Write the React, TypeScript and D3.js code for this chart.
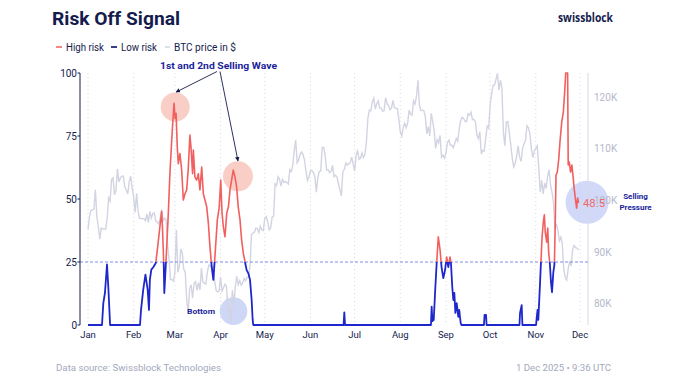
import React from 'react';
import * as d3 from 'd3';

// BTC daily close in $K, from 2025-01-01 to 2025-11-30
const btcStart = '2025-01-01';
const btcPrice = [
  // Jan
  94.4, 96.9, 98.1, 98.2, 98.3, 102.1, 96.9, 95.0, 92.5, 94.7, 94.5, 94.5, 94.5, 96.5, 100.5, 99.9, 104.1, 104.4, 101.1, 102.0, 106.1, 103.6, 104.4, 104.7, 104.7, 102.6, 102.0, 101.3, 103.7, 104.7, 102.4,
  // Feb
  100.6, 97.7, 101.4, 97.9, 96.6, 96.5, 96.5, 96.5, 96.1, 97.4, 95.7, 97.9, 96.6, 97.5, 97.6, 96.1, 95.8, 95.5, 96.6, 98.3, 96.1, 96.6, 96.3, 91.5, 88.7, 84.7, 84.7, 84.4,
  // Mar
  86.0, 94.3, 86.1, 87.2, 90.6, 89.9, 86.7, 86.2, 80.7, 78.5, 82.9, 83.7, 81.1, 84.0, 84.3, 82.6, 84.1, 82.7, 86.9, 84.2, 84.0, 83.8, 86.1, 87.5, 87.4, 86.9, 87.2, 84.4, 82.6, 82.3, 82.5,
  // Apr
  85.2, 82.5, 83.1, 83.8, 83.5, 78.2, 79.2, 76.3, 82.6, 79.6, 83.4, 85.3, 83.7, 84.5, 83.6, 84.0, 84.9, 84.5, 85.1, 85.2, 87.5, 93.4, 93.7, 93.9, 94.7, 94.6, 93.8, 95.0, 94.3, 94.2,
  // May
  96.5, 96.9, 95.9, 94.3, 94.7, 96.8, 97.0, 103.2, 102.9, 104.6, 104.1, 102.8, 104.1, 103.5, 103.7, 103.5, 103.2, 106.0, 105.6, 106.8, 109.7, 111.7, 107.3, 107.8, 109.0, 109.4, 108.9, 107.8, 105.6, 103.9, 104.6,
  // Jun
  105.7, 105.8, 105.4, 104.7, 101.6, 104.4, 105.6, 105.7, 110.3, 110.3, 108.7, 105.9, 106.0, 105.4, 105.6, 106.8, 104.6, 104.9, 104.6, 103.3, 102.1, 100.9, 105.6, 106.0, 107.3, 106.9, 107.1, 107.3, 108.4, 107.1,
  // Jul
  105.7, 108.8, 109.6, 108.0, 108.2, 109.2, 108.3, 108.9, 111.3, 115.9, 117.5, 117.4, 119.1, 119.8, 117.7, 118.7, 119.3, 117.9, 117.9, 117.3, 117.4, 119.9, 118.8, 118.4, 117.6, 117.9, 119.4, 118.0, 117.9, 117.8, 115.8,
  // Aug
  113.3, 112.5, 114.2, 115.0, 114.1, 115.0, 117.5, 116.7, 116.5, 119.3, 118.7, 120.2, 123.3, 118.4, 117.4, 117.5, 117.4, 116.2, 112.9, 114.3, 112.5, 116.9, 115.4, 113.5, 110.1, 111.8, 111.2, 112.6, 108.4, 108.8, 108.2,
  // Sep
  109.2, 111.2, 111.7, 110.7, 110.7, 110.2, 111.1, 112.0, 111.5, 113.9, 115.5, 116.1, 115.9, 115.3, 115.3, 116.8, 116.5, 117.1, 115.7, 115.7, 115.3, 112.7, 112.0, 113.3, 109.0, 109.7, 109.6, 112.1, 114.4, 114.0,
  // Oct
  118.6, 120.6, 122.3, 122.4, 123.5, 124.6, 121.4, 123.3, 121.7, 113.2, 110.6, 115.2, 115.3, 113.1, 110.8, 108.2, 106.5, 107.2, 108.6, 110.6, 108.5, 107.6, 110.1, 111.0, 111.6, 114.5, 114.1, 112.9, 110.0, 108.3, 109.6,
  // Nov
  110.1, 110.6, 106.5, 101.6, 103.9, 101.3, 103.4, 102.3, 104.7, 106.0, 103.0, 101.6, 99.7, 94.4, 95.5, 94.2, 92.2, 92.9, 91.5, 86.6, 85.1, 84.6, 86.8, 88.3, 87.3, 90.5, 91.3, 90.9, 90.8, 90.4,
];

// Risk Off Signal: day offset from 2025-01-01 and value (0-100)
const riskDay = [
  0, 9.5, 10.4, 11.5, 12.9, 13.8, 15, 35.3, 36, 37.5, 39, 40.5, 41.4, 42, 43, 44.4, 46, 47.3, 49, 50, 50.7, 51.4, 51.8, 53, 54.5, 55.6, 56.8, 57.5, 58.4,
  59.1, 59.8, 60.6, 61.3, 62.4, 63.6, 64.7, 65.8, 67, 68, 69.2, 69.9, 71, 71.5, 72.6, 73.8, 74.9, 76, 77.2, 78.3, 79.4, 80.6, 81.7, 82.8, 84, 85.1, 85.7,
  86.9, 87.8, 89.1, 90.1, 91, 91.9, 93, 94.2, 95.3, 96.4, 97.5, 98.6, 99.8, 100.9, 102, 103.2, 104.3, 105.4, 106.6, 107.7, 108.8, 110, 111.1, 111.8, 112.2,
  173.5, 174, 174.5,
  232.8, 233.3, 233.8, 234.7, 235.8, 236.7, 237.8, 239, 240, 241.2, 242.4, 243.5, 244.6, 245.8, 246.4, 247.3, 248, 248.7, 249.4, 250.3, 251.4, 252, 253, 253.5,
  268.8, 269.2, 270.2, 270.6,
  292.9, 293.3, 294.4, 294.9,
  304.2, 304.6, 305.2, 305.7, 306.9, 307.5, 308.2, 309.1, 309.8, 310.4, 311.4, 312.1, 312.7, 313.6, 314.3, 315, 315.9, 316.6, 317.3, 317.7, 318.6, 319.6,
  320.4, 321.6, 322.7, 323.6, 324.3, 325.6, 326, 326.7, 327.6, 328.5, 329.4, 330, 330.8, 331.7, 332.4, 333,
];
const riskValue = [
  0, 0, 8.7, 12.7, 24, 15, 0, 0, 6, 14, 20, 14, 6, 18, 22, 23, 24.6, 31, 40, 45, 36.5, 24.6, 12.7, 25.8, 44, 60, 73, 80, 88,
  82, 84, 70.6, 64, 68, 61.5, 49.6, 52, 53.6, 61.5, 75.4, 70.6, 60, 69.4, 58.7, 57.5, 60, 53.6, 62.7, 52, 49.6, 46.8, 40.5, 31, 23, 17.9, 23,
  33.7, 41.7, 46.8, 57.5, 44.4, 38.9, 35, 44.4, 46.8, 53.6, 57.5, 61.5, 58.7, 54.8, 46.8, 41.7, 33.7, 28.6, 25, 21.8, 20.6, 17.9, 9.9, 2, 0,
  0, 5, 0,
  0, 7.3, 1.5, 2, 15, 24.6, 35, 29.8, 23, 18.6, 21.8, 27, 23, 27, 24.6, 15, 9.9, 12.7, 4.8, 8.7, 3.2, 6, 0.8, 0,
  0, 4, 4, 0,
  0, 4.8, 7.9, 0,
  0, 2.8, 6, 2, 17, 25, 34.5, 40.9, 43.7, 36.9, 32.9, 38.5, 29, 23.8, 17, 13, 21, 23.8, 43.7, 59.5, 60.7, 66,
  72.6, 80.6, 84.5, 92.5, 100, 100, 63.5, 64.7, 60.7, 63.5, 58.3, 54.4, 50.4, 46.4, 50.4, 48.5,
];

const leftTicks = [0, 25, 50, 75, 100];
const rightTicks = [80, 90, 100, 110, 120];
const riskThreshold = 25;
const lastRiskLabel = '48.5';

const NAVY = '#141b4d';
const DEEP = '#1b1f9a';
const RED = '#f25f5f';
const BLUE = '#1d27cc';
const GRAY = '#d2d4e2';

export default function App() {
  const t0 = new Date(btcStart + 'T00:00:00Z');
  const dayToDate = (d: number) => new Date(t0.getTime() + d * 86400000);
  const x = d3.scaleUtc().domain([t0, new Date(Date.UTC(2025, 11, 1))]).range([88, 580]);
  const yL = d3.scaleLinear().domain([0, 100]).range([325, 73]);
  const yR = d3.scaleLinear().domain([75.9, 124.7]).range([325, 73]);

  const btcLine = d3
    .line<number>()
    .x((_, i) => x(dayToDate(i)))
    .y((v) => yR(v));
  const riskData = riskDay.map((d, i) => ({ d, v: riskValue[i] }));
  const riskLine = d3
    .line<{ d: number; v: number }>()
    .x((p) => x(dayToDate(p.d)))
    .y((p) => yL(p.v));

  const months = x.ticks(d3.utcMonth.every(1) as any);
  const fmt = d3.utcFormat('%b');
  const yT = yL(riskThreshold);

  // annotation anchors (data space)
  const c1 = { x: x(dayToDate(59.2)), y: yL(86.5) };
  const c2 = { x: x(dayToDate(101.8)), y: yL(59) };
  const cb = { x: x(dayToDate(98.8)), y: yL(5.5) };
  const cr = { x: x(dayToDate(338.8)), y: yL(48.7) };

  const font = "Roboto, 'Noto Sans', sans-serif";

  return (
    <svg
      width={680}
      height={383}
      viewBox="0 0 680 383"
      style={{ position: 'absolute', left: 0, top: 0, background: '#fff' }}
      fontFamily={font}
    >
      <defs>
        <clipPath id="plot">
          <rect x={80} y={72} width={520} height={260} />
        </clipPath>
        <clipPath id="above">
          <rect x={80} y={60} width={520} height={yT - 60} />
        </clipPath>
        <clipPath id="below">
          <rect x={80} y={yT} width={520} height={340 - yT} />
        </clipPath>
        <marker id="arr" viewBox="0 0 6 6" refX={5} refY={3} markerWidth={5} markerHeight={5} orient="auto">
          <path d="M0,0 L6,3 L0,6 z" fill={NAVY} />
        </marker>
      </defs>

      <rect width={680} height={383} fill="#fff" />

      {/* Title */}
      <text x={52} y={25} fontSize={18} fontWeight={700} fill={NAVY} textLength={128} lengthAdjust="spacingAndGlyphs">
        Risk Off Signal
      </text>
      <text x={558} y={22} fontSize={11.5} fontWeight={700} fill={NAVY} fontFamily="'Open Sans', sans-serif" textLength={55} lengthAdjust="spacingAndGlyphs">
        swissblock
      </text>

      {/* Legend */}
      <g fontSize={10} fill={NAVY}>
        <line x1={56} x2={62} y1={47} y2={47} stroke={RED} strokeWidth={1.5} />
        <text x={66} y={51} textLength={38} lengthAdjust="spacingAndGlyphs">High risk</text>
        <line x1={111} x2={117} y1={47} y2={47} stroke={'#23287a'} strokeWidth={1.8} />
        <text x={121} y={51} textLength={36} lengthAdjust="spacingAndGlyphs">Low risk</text>
        <line x1={165} x2={170} y1={47} y2={47} stroke={GRAY} strokeWidth={1.5} />
        <text x={174} y={51} textLength={62} lengthAdjust="spacingAndGlyphs">BTC price in $</text>
      </g>

      {/* vertical dotted month gridlines */}
      {months.map((m, i) => (
        <line key={i} x1={x(m)} x2={x(m)} y1={73} y2={325} stroke="#d6d8e2" strokeDasharray="1,3" strokeWidth={1} />
      ))}

      {/* annotation circles (behind lines) */}
      <circle cx={c1.x} cy={c1.y} r={14.5} fill="#f8c6bc" opacity={0.85} />
      <circle cx={c2.x} cy={c2.y} r={15} fill="#f8c6bc" opacity={0.85} />
      <circle cx={cb.x} cy={cb.y} r={13.8} fill="#c7d0f6" opacity={0.85} />
      <circle cx={cr.x} cy={cr.y} r={21.5} fill="#c7d0f6" opacity={0.8} />

      {/* right axis */}
      <line x1={588} x2={588} y1={73} y2={325} stroke="#d6d8e2" strokeWidth={1} />
      {rightTicks.map((t) => (
        <text key={t} x={594} y={yR(t)} dy="0.35em" fontSize={10} fill="#b4b8cb">
          {t}K
        </text>
      ))}

      {/* BTC price */}
      <path d={btcLine(btcPrice) || ''} fill="none" stroke={GRAY} strokeWidth={1.4} clipPath="url(#plot)" />

      {/* threshold */}
      <line x1={80} x2={588} y1={yT} y2={yT} stroke="#7d8fe6" strokeDasharray="3,2" strokeWidth={1} />

      {/* risk signal */}
      <g clipPath="url(#plot)">
        <path d={riskLine(riskData) || ''} fill="none" stroke={RED} strokeWidth={1.6} clipPath="url(#above)" strokeLinejoin="round" />
        <path d={riskLine(riskData) || ''} fill="none" stroke={BLUE} strokeWidth={1.8} clipPath="url(#below)" strokeLinejoin="round" />
      </g>

      {/* left axis */}
      <line x1={80} x2={80} y1={73} y2={325} stroke={NAVY} strokeWidth={1} />
      {leftTicks.map((t) => (
        <g key={t}>
          <line x1={77.5} x2={80} y1={yL(t)} y2={yL(t)} stroke={NAVY} strokeWidth={1} />
          <text x={77} y={yL(t)} dy="0.35em" textAnchor="end" fontSize={10} fill={NAVY}>
            {t}
          </text>
        </g>
      ))}

      {/* x labels */}
      {months.map((m, i) => (
        <text key={i} x={x(m)} y={338} textAnchor="middle" fontSize={9.5} fill={NAVY}>
          {fmt(m)}
        </text>
      ))}

      {/* annotations */}
      <text x={218.5} y={68.5} textAnchor="middle" fontSize={9.5} fontWeight={700} fill={DEEP} textLength={117} lengthAdjust="spacingAndGlyphs">
        1st and 2nd Selling Wave
      </text>
      <line x1={217} y1={71.5} x2={c1.x + 1} y2={c1.y - 15} stroke={NAVY} strokeWidth={0.9} markerEnd="url(#arr)" />
      <line x1={220} y1={71.5} x2={c2.x} y2={c2.y - 15.5} stroke={NAVY} strokeWidth={0.9} markerEnd="url(#arr)" />

      <text x={187} y={314} fontSize={8} fontWeight={700} fill={DEEP} textLength={28} lengthAdjust="spacingAndGlyphs">
        Bottom
      </text>

      <text x={583} y={207} fontSize={10.5} fill="#f06a6a" textLength={22} lengthAdjust="spacingAndGlyphs">
        {lastRiskLabel}
      </text>
      <text x={635.5} y={199} textAnchor="middle" fontSize={8} fontWeight={700} fill={DEEP}>
        Selling
      </text>
      <text x={635.5} y={210} textAnchor="middle" fontSize={8} fontWeight={700} fill={DEEP}>
        Pressure
      </text>

      {/* footer */}
      <text x={56} y={371} fontSize={9} fill="#a3a8bc" textLength={165} lengthAdjust="spacingAndGlyphs">
        Data source: Swissblock Technologies
      </text>
      <text x={611} y={371} textAnchor="end" fontSize={9} fill="#a3a8bc" textLength={95} lengthAdjust="spacingAndGlyphs">
        1 Dec 2025 • 9:36 UTC
      </text>
    </svg>
  );
}
